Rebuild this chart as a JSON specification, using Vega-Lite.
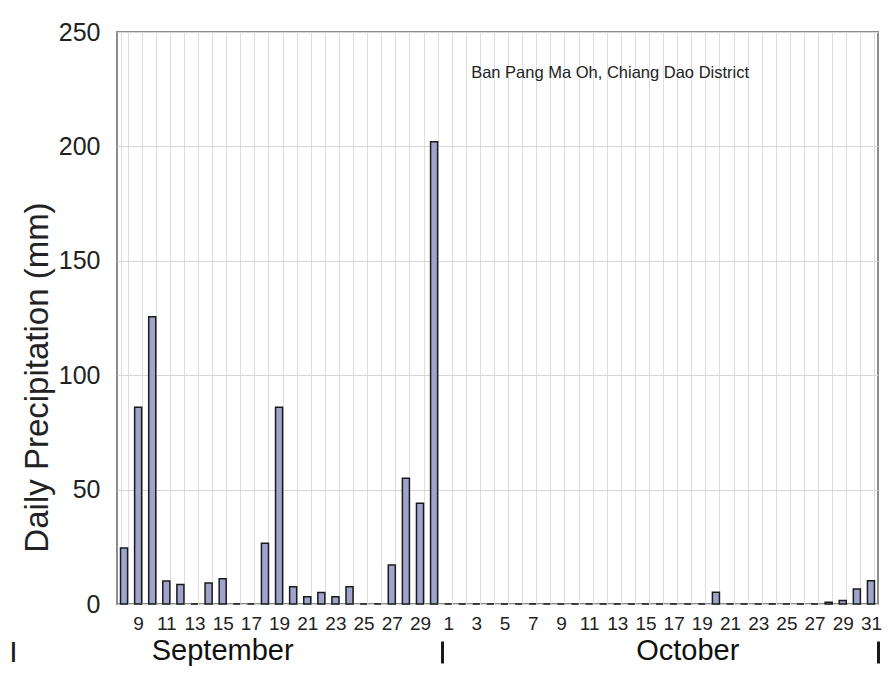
{
  "$schema": "https://vega.github.io/schema/vega-lite/v6.json",
  "width": 761,
  "height": 572,
  "autosize": "none",
  "padding": {"left": 117, "top": 32, "right": 15, "bottom": 77},
  "background": "white",
  "config": {
    "view": {"stroke": "#8c8c8c", "strokeWidth": 2},
    "font": "Liberation Sans"
  },
  "data": {
    "values": [
      {"day": "Sep 8", "precip": 24.5},
      {"day": "Sep 9", "precip": 86},
      {"day": "Sep 10", "precip": 125.5},
      {"day": "Sep 11", "precip": 10},
      {"day": "Sep 12", "precip": 8.5},
      {"day": "Sep 13", "precip": 0},
      {"day": "Sep 14", "precip": 9.2},
      {"day": "Sep 15", "precip": 11},
      {"day": "Sep 16", "precip": 0},
      {"day": "Sep 17", "precip": 0},
      {"day": "Sep 18", "precip": 26.5},
      {"day": "Sep 19", "precip": 86},
      {"day": "Sep 20", "precip": 7.5},
      {"day": "Sep 21", "precip": 3.2},
      {"day": "Sep 22", "precip": 5},
      {"day": "Sep 23", "precip": 3.2},
      {"day": "Sep 24", "precip": 7.5},
      {"day": "Sep 25", "precip": 0},
      {"day": "Sep 26", "precip": 0},
      {"day": "Sep 27", "precip": 17},
      {"day": "Sep 28", "precip": 55},
      {"day": "Sep 29", "precip": 44},
      {"day": "Sep 30", "precip": 202},
      {"day": "Oct 1", "precip": 0},
      {"day": "Oct 2", "precip": 0},
      {"day": "Oct 3", "precip": 0},
      {"day": "Oct 4", "precip": 0},
      {"day": "Oct 5", "precip": 0},
      {"day": "Oct 6", "precip": 0},
      {"day": "Oct 7", "precip": 0},
      {"day": "Oct 8", "precip": 0},
      {"day": "Oct 9", "precip": 0},
      {"day": "Oct 10", "precip": 0},
      {"day": "Oct 11", "precip": 0},
      {"day": "Oct 12", "precip": 0},
      {"day": "Oct 13", "precip": 0},
      {"day": "Oct 14", "precip": 0},
      {"day": "Oct 15", "precip": 0},
      {"day": "Oct 16", "precip": 0},
      {"day": "Oct 17", "precip": 0},
      {"day": "Oct 18", "precip": 0},
      {"day": "Oct 19", "precip": 0},
      {"day": "Oct 20", "precip": 5.1},
      {"day": "Oct 21", "precip": 0},
      {"day": "Oct 22", "precip": 0},
      {"day": "Oct 23", "precip": 0},
      {"day": "Oct 24", "precip": 0},
      {"day": "Oct 25", "precip": 0},
      {"day": "Oct 26", "precip": 0},
      {"day": "Oct 27", "precip": 0},
      {"day": "Oct 28", "precip": 0.8},
      {"day": "Oct 29", "precip": 1.5},
      {"day": "Oct 30", "precip": 6.6},
      {"day": "Oct 31", "precip": 10.2}
    ]
  },
  "resolve": {"axis": {"x": "independent", "y": "independent"}},
  "layer": [
    {
      "mark": {"type": "bar", "fill": "#a0a4cc", "stroke": "#1a1a1a", "strokeWidth": 1.5},
      "encoding": {
        "x": {
          "field": "day",
          "type": "ordinal",
          "sort": null,
          "scale": {"paddingInner": 0.5, "paddingOuter": 0.25},
          "axis": {
            "orient": "bottom",
            "title": null,
            "domain": false,
            "ticks": false,
            "grid": true,
            "gridColor": "#dedede",
            "gridWidth": 1,
            "tickBand": "extent",
            "labelAngle": 0,
            "labelOverlap": false,
            "labelBound": false,
            "labelFlush": false,
            "labelFontSize": 19,
            "labelColor": "#222",
            "labelPadding": 10,
            "labelExpr": "parseInt(split(datum.value, ' ')[1]) % 2 == 1 ? split(datum.value, ' ')[1] : ''"
          }
        },
        "y": {
          "field": "precip",
          "type": "quantitative",
          "scale": {"domain": [0, 250], "nice": false},
          "axis": {
            "orient": "left",
            "values": [0, 50, 100, 150, 200, 250],
            "domain": false,
            "ticks": false,
            "grid": true,
            "gridColor": "#d6d6d6",
            "labelFontSize": 25,
            "labelColor": "#222",
            "labelPadding": 17,
            "title": "Daily Precipitation (mm)",
            "titleFontSize": 33,
            "titleFontWeight": "normal",
            "titleColor": "#222",
            "titleX": -80,
            "titleY": 345,
            "titleAlign": "center",
            "titleBaseline": "middle",
            "titleAngle": -90
          }
        }
      }
    },
    {
      "mark": {"type": "tick", "opacity": 0},
      "encoding": {
        "x": {
          "field": "day",
          "type": "ordinal",
          "sort": null,
          "axis": {
            "orient": "bottom",
            "title": null,
            "values": ["Sep 15", "Oct 18"],
            "labelExpr": "datum.value == 'Sep 15' ? 'September' : 'October'",
            "domain": false,
            "ticks": false,
            "grid": false,
            "labelAngle": 0,
            "labelOverlap": false,
            "labelBound": false,
            "labelFlush": false,
            "labelFontSize": 29,
            "labelColor": "#111",
            "labelPadding": 32
          }
        }
      }
    },
    {
      "mark": {"type": "tick", "opacity": 0},
      "encoding": {
        "x": {
          "field": "day",
          "type": "ordinal",
          "sort": null,
          "axis": {
            "orient": "bottom",
            "offset": 37,
            "values": ["Sep 30", "Oct 31"],
            "bandPosition": 1,
            "tickOffset": 4,
            "labels": false,
            "domain": false,
            "grid": false,
            "ticks": true,
            "tickSize": 22,
            "tickWidth": 3,
            "tickColor": "#1a1a1a",
            "title": "I",
            "titleFontSize": 30,
            "titleFontWeight": "normal",
            "titleColor": "#1a1a1a",
            "titleX": -104,
            "titleY": 11,
            "titleAlign": "center",
            "titleBaseline": "middle"
          }
        }
      }
    },
    {
      "data": {"values": [{"label": "Ban Pang Ma Oh, Chiang Dao District"}]},
      "mark": {"type": "text", "fontSize": 16.5, "color": "#222", "dx": 21, "baseline": "middle"},
      "encoding": {
        "x": {"datum": "Oct 11", "type": "ordinal", "axis": null},
        "y": {"datum": 232, "type": "quantitative", "axis": null},
        "text": {"field": "label"}
      }
    }
  ]
}
